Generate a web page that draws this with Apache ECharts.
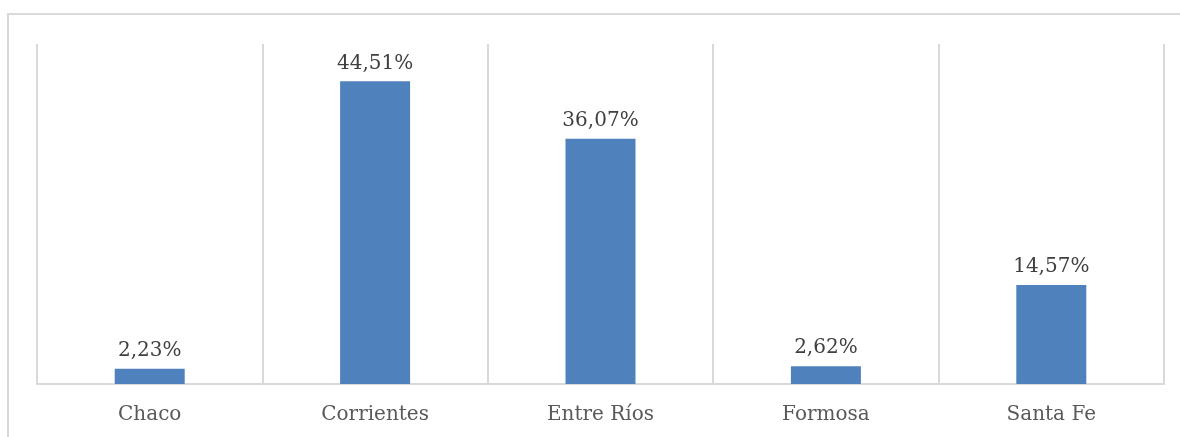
<!DOCTYPE html>
<html>
<head>
<meta charset="utf-8">
<script src="https://cdn.jsdelivr.net/npm/echarts@6/dist/echarts.min.js"></script>
<style>
  html, body { margin: 0; padding: 0; background: #fff; }
  #main { width: 1180px; height: 437px; }
</style>
</head>
<body>
<div id="main"></div>
<script>
// provincias y porcentajes
var categories = ['Chaco', 'Corrientes', 'Entre Ríos', 'Formosa', 'Santa Fe'];
var values = [2.23, 44.51, 36.07, 2.62, 14.57];

var myChart = echarts.init(document.getElementById('main'));

var option = {
    backgroundColor: '#ffffff',
    animation: false,
    textStyle: { fontFamily: 'DejaVu Serif' },
    graphic: [
        {
            type: 'rect',
            shape: { x: 8, y: 14, width: 1300, height: 600 },
            style: { fill: 'none', stroke: '#d9d9d9', lineWidth: 2 },
            silent: true
        }
    ],
    grid: { left: 37, right: 16, top: 44, bottom: 53 },
    xAxis: {
        type: 'category',
        data: categories,
        axisLine: { lineStyle: { color: '#d9d9d9', width: 2 } },
        axisTick: { show: false },
        splitLine: { show: true, interval: 0, lineStyle: { color: '#d9d9d9', width: 2 } },
        axisLabel: {
            color: '#595959',
            fontSize: 20,
            margin: 21,
            fontFamily: 'DejaVu Serif'
        }
    },
    yAxis: {
        type: 'value',
        min: 0,
        max: 50,
        show: false,
        splitLine: { show: false }
    },
    series: [
        {
            type: 'bar',
            data: values,
            barWidth: 70,
            itemStyle: { color: '#4f81bd' },
            label: {
                show: true,
                position: 'top',
                distance: 8,
                color: '#404040',
                fontSize: 20,
                fontFamily: 'DejaVu Serif',
                formatter: function (p) {
                    return p.value.toFixed(2).replace('.', ',') + '%';
                }
            }
        }
    ]
};
myChart.setOption(option);
</script>
</body>
</html>
